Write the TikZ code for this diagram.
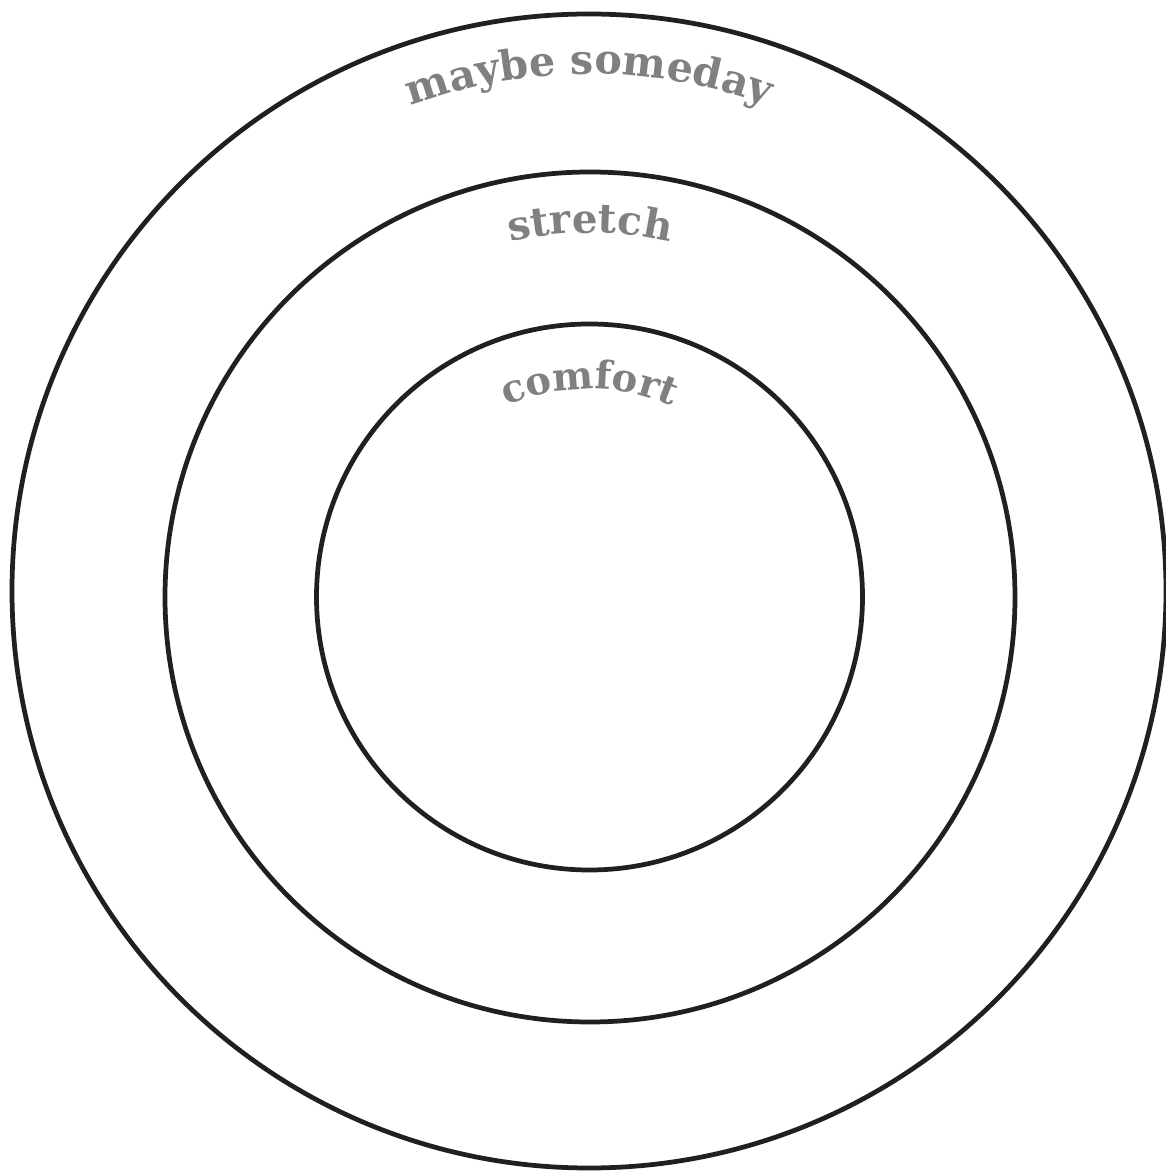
\documentclass[tikz,border=0pt]{standalone}
\usepackage{fontspec}
\setmainfont{DejaVu Serif}
\usepackage{xcolor}
\usetikzlibrary{decorations.text}
\definecolor{ink}{HTML}{231F20}
\definecolor{gray1}{HTML}{808080}

\begin{document}
\begin{tikzpicture}[
    x=0.02cm, y=0.02cm,
    R/.style={draw=ink, line width=2.7pt}
]
\useasboundingbox (0,0) rectangle (1166,1171);

% === CENTRES ===
\coordinate (c1) at (589,580);
\coordinate (c2) at (590,574);
\coordinate (c3) at (589.5,574);

% === RINGS ===
\draw[R] (c1) circle[radius=577];
\draw[R] (c2) circle[radius=425];
\draw[R] (c3) circle[radius=273];

% === LABELS ===
\path[decorate, decoration={text along path, text align=center,
      text={|\fontsize{23.5}{25}\selectfont\bfseries\color{gray1}|maybe someday}}]
    (c1) ++(150:517) arc[start angle=150, end angle=30, radius=517];
\path[decorate, decoration={text along path, text align=center,
      text={|\fontsize{23}{25}\selectfont\bfseries\color{gray1}|stretch}}]
    (c2) ++(150:364) arc[start angle=150, end angle=30, radius=364];
\path[decorate, decoration={text along path, text align=center,
      text={|\fontsize{22}{24}\selectfont\bfseries\color{gray1}|comfort}}]
    (c3) ++(150:208) arc[start angle=150, end angle=30, radius=208];

\end{tikzpicture}
\end{document}
